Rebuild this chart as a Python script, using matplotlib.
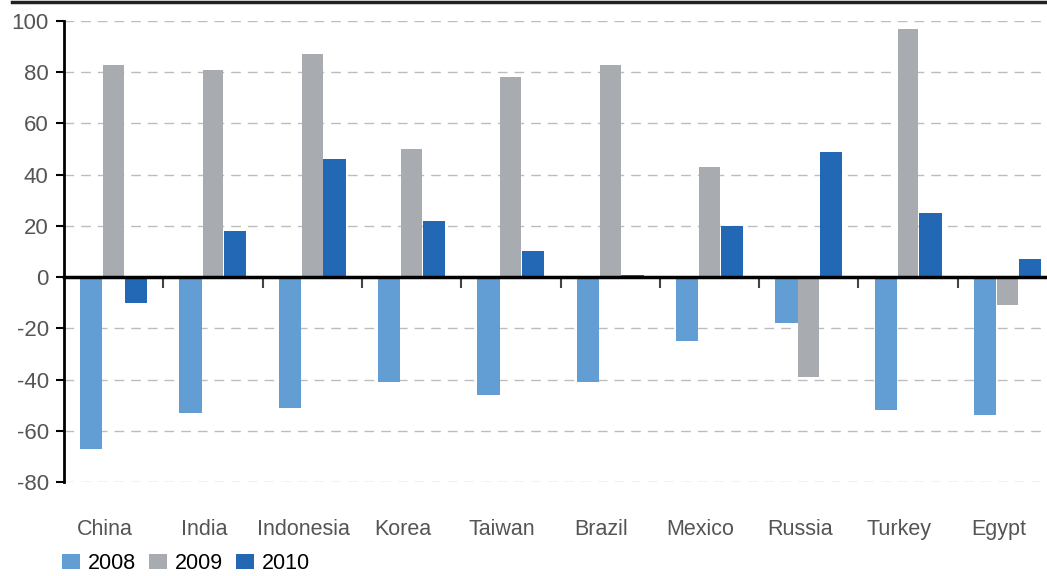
import matplotlib.pyplot as plt
from matplotlib.lines import Line2D
import numpy as np

plt.rcParams['font.family'] = ['Liberation Sans', 'DejaVu Sans']

countries = ['China', 'India', 'Indonesia', 'Korea', 'Taiwan',
             'Brazil', 'Mexico', 'Russia', 'Turkey', 'Egypt']
years = ['2008', '2009', '2010']
v2008 = [-67, -53, -51, -41, -46, -41, -25, -18, -52, -54]
v2009 = [83, 81, 87, 50, 78, 83, 43, -39, 97, -11]
v2010 = [-10, 18, 46, 22, 10, 1, 20, 49, 25, 7]
colors = ['#629dd3', '#a8abaf', '#2368b4']
yticks = [-80, -60, -40, -20, 0, 20, 40, 60, 80, 100]

W, H = 1047, 576
fig = plt.figure(figsize=(W / 100, H / 100), dpi=100)
ax = fig.add_axes([64 / W, 94 / H, 993 / W, 461 / H])

x = np.arange(len(countries)) + 0.5
bw = 0.225
for i, vals in enumerate([v2008, v2009, v2010]):
    w = bw * 0.93 if i == 1 else bw
    ax.bar(x + (i - 1) * bw, vals, width=w, color=colors[i],
           label=years[i], zorder=2)

ax.set_xlim(0, len(countries))
ax.set_ylim(-80, 100)
ax.set_yticks(yticks)
ax.set_yticklabels([str(t) for t in yticks], fontsize=16, color='#555555')
for t in yticks:
    if t != 0:
        ax.axhline(t, color='#bdbdbd', lw=1, ls=(0, (7, 5)), zorder=1)

for s in ['top', 'right']:
    ax.spines[s].set_visible(False)
ax.spines['left'].set_linewidth(2)
ax.spines['left'].set_color('black')
ax.tick_params(axis='y', direction='out', length=6, width=1.5, color='black', pad=5)

# zero line as bottom spine, boundary ticks pointing down
ax.spines['bottom'].set_position(('data', 0))
ax.spines['bottom'].set_linewidth(2.5)
ax.spines['bottom'].set_zorder(3)
ax.set_xticks(np.arange(1, len(countries)))
ax.set_xticklabels([])
ax.tick_params(axis='x', direction='out', length=8, width=1.5, color='#444444')

for xi, name in zip(x, countries):
    ax.text(xi - 0.09, -0.102, name, transform=ax.get_xaxis_transform(),
            ha='center', va='center', fontsize=15.5, color='#555555')

fig.add_artist(Line2D([12 / W, 1], [0.996, 0.996], color='#222222', lw=2.5))

fig.legend(loc='lower left', bbox_to_anchor=(49 / W, -11 / H), ncol=3,
           frameon=False, fontsize=15.5, handlelength=0.85, handleheight=0.75,
           handletextpad=0.35, columnspacing=0.6, borderaxespad=0.2)

fig.savefig('out.png', dpi=100)
